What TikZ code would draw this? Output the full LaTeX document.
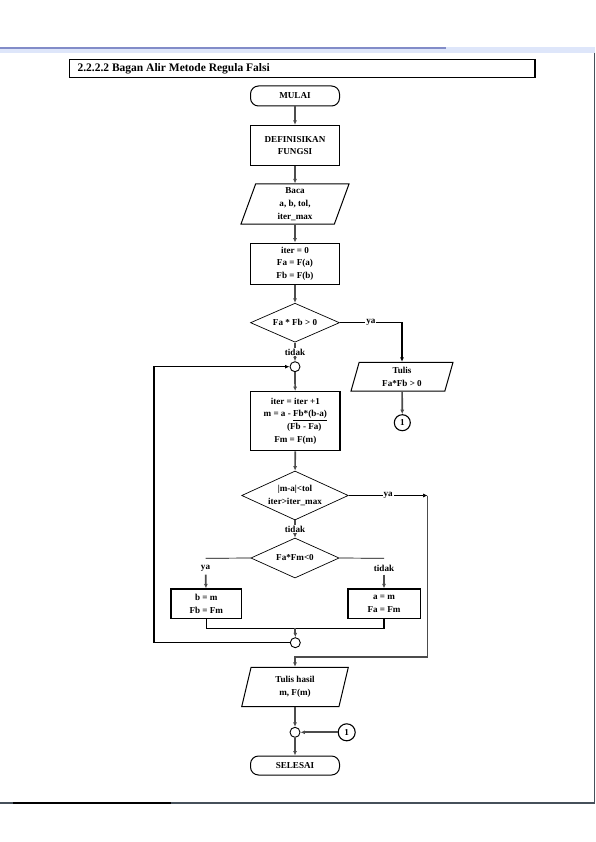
\documentclass[tikz,border=0pt]{standalone}
\usepackage{fontspec}
\setmainfont{Liberation Serif}
\usetikzlibrary{shapes.geometric,arrows.meta}
\definecolor{pageedge}{RGB}{70,80,90}
\definecolor{band}{RGB}{222,230,250}
\definecolor{bandline}{RGB}{130,140,200}

\begin{document}
\begin{tikzpicture}[x=1pt,y=-1pt,
  font=\fontsize{9.1}{12.8}\selectfont\bfseries,
  >={Latex[length=4.5pt,width=4pt]},
  term/.style={draw,line width=1pt,rounded corners=8pt,minimum width=89pt,minimum height=20pt,inner sep=0pt},
  proc/.style={draw,line width=1.3pt,minimum width=89pt,align=center,inner sep=0pt},
  inout/.style={draw,line width=1pt,trapezium,trapezium left angle=66,trapezium right angle=114,trapezium stretches body,align=center,inner sep=0pt},
  decide/.style={draw,line width=0.7pt,diamond,align=center,inner sep=0pt},
  junc/.style={draw,line width=0.9pt,circle,minimum size=10pt,inner sep=0pt},
  conn/.style={draw,line width=1.1pt,circle,minimum size=16pt,inner sep=0pt},
  flow/.style={line width=1.7pt,draw=black!70},
  loopline/.style={line width=1.3pt},
  branch/.style={line width=0.7pt},
  lbl/.style={fill=white,inner sep=1pt}]
\useasboundingbox (0,0) rectangle (595,842);
% page edges
\fill[band] (0,46.7) rectangle (595,52.7);
\draw[line width=2pt,bandline] (0,48.3) -- (445.7,48.3);
\draw[line width=1pt,pageedge] (594.3,52.7) -- (594.3,803);
\draw[line width=2pt,pageedge] (0,803) -- (595,803);
\draw[line width=2pt] (13,803) -- (171,803);
% title
\draw[line width=1.3pt] (69.3,59.3) rectangle (535,77.3);
\node[anchor=west,font=\fontsize{11.5}{13}\selectfont\bfseries] (judul) at (74,68.5) {2.2.2.2 Bagan Alir Metode Regula Falsi};
% flowchart
\node[term] (mulai) at (295,96) {MULAI};
\node[proc,minimum height=40pt] (def) at (295,145.5) {DEFINISIKAN\\FUNGSI};
\node[inout,minimum width=108pt,minimum height=40pt] (baca) at (295,204) {Baca\\a, b, tol,\\iter\_max};
\node[proc,minimum height=41pt] (awal) at (295,263.7) {iter = 0\\Fa = F(a)\\Fb = F(b)};
\node[decide,aspect=2.3,minimum width=89pt,minimum height=39pt] (cek) at (295,322.7) {Fa * Fb > 0};
\node[junc] (j1) at (295,366.7) {};
\node[inout,trapezium left angle=67,trapezium right angle=113,minimum width=102pt,minimum height=28.7pt] (tulis) at (402,376.7) {Tulis\\Fa*Fb > 0};
\node[conn] (k1) at (402.3,422.7) {1};
\node[proc,minimum width=89.3pt,minimum height=59pt] (hitung) at (295.3,421.2) {iter = iter +1\\m = a - \underline{Fb*(b-a)}\\\hspace*{18pt}(Fb - Fa)\\Fm = F(m)};
\node[decide,aspect=2.2,minimum width=106.6pt,minimum height=49pt] (henti) at (295,495.5) {|m-a|<tol\\iter>iter\_max};
\node[decide,aspect=2.2,minimum width=88.3pt,minimum height=40pt] (tanda) at (295,558) {Fa*Fm<0};
\node (ya3) at (205.5,568) {ya};
\node (tidak3) at (384,568) {tidak};
\node[proc,minimum width=70.7pt,minimum height=29.3pt] (geserb) at (206.3,603.7) {b = m\\Fb = Fm};
\node[proc,minimum width=72.3pt,minimum height=29.3pt] (gesera) at (384,603.7) {a = m\\Fa = Fm};
\node[junc] (j2) at (295.3,642.7) {};
\node[inout,minimum width=106.6pt,minimum height=39.4pt] (hasil) at (295,687) {Tulis hasil\\m, F(m)};
\node[junc] (j3) at (295,732.3) {};
\node[conn,minimum size=17pt] (k2) at (346.7,732.3) {1};
\node[term,minimum height=19pt] (selesai) at (295,765.5) {SELESAI};
\coordinate (ya2) at (427.5,495.5);
\coordinate (ya2b) at (427.5,657);
\coordinate (kiri3) at (205.5,558.3);
\coordinate (kanan3) at (384,558.3);
\coordinate (gabung) at (295.3,628.3);
\coordinate (balik) at (154,366.7);
% connectors
\draw[flow,->] (mulai) -- (def);
\draw[flow,->] (def) -- (baca);
\draw[flow,->] (baca) -- (awal);
\draw[flow,->] (awal) -- (cek);
\draw[flow,->] (cek) -- node[lbl] {tidak} (j1);
\draw[loopline,->] (cek.east) -| node[lbl,pos=0.25] {ya} (tulis.north);
\draw[flow,->] (tulis) -- (k1);
\draw[flow,->] (j1) -- (hitung);
\draw[flow,->] (hitung) -- (henti);
\draw[flow,->] (henti) -- node[lbl] {tidak} (tanda);
\draw[branch,->] (henti.east) -- node[lbl] {ya} (ya2);
\draw[flow,->] (ya2) -- (ya2b) -| (hasil.north);
\draw[branch] (tanda.west) -- (kiri3);
\draw[branch] (tanda.east) -- (kanan3);
\draw[flow,->] (ya3) -- (geserb);
\draw[flow,->] (tidak3) -- (gesera);
\draw[loopline] (geserb.south) |- (gabung) -| (gesera.south);
\draw[flow,->] (gabung) -- (j2);
\draw[loopline,->] (j2.west) -| (balik) -- (j1.west);
\draw[flow,->] (hasil) -- (j3);
\draw[flow,->] (k2) -- (j3);
\draw[flow,->] (j3) -- (selesai);
\end{tikzpicture}
\end{document}
